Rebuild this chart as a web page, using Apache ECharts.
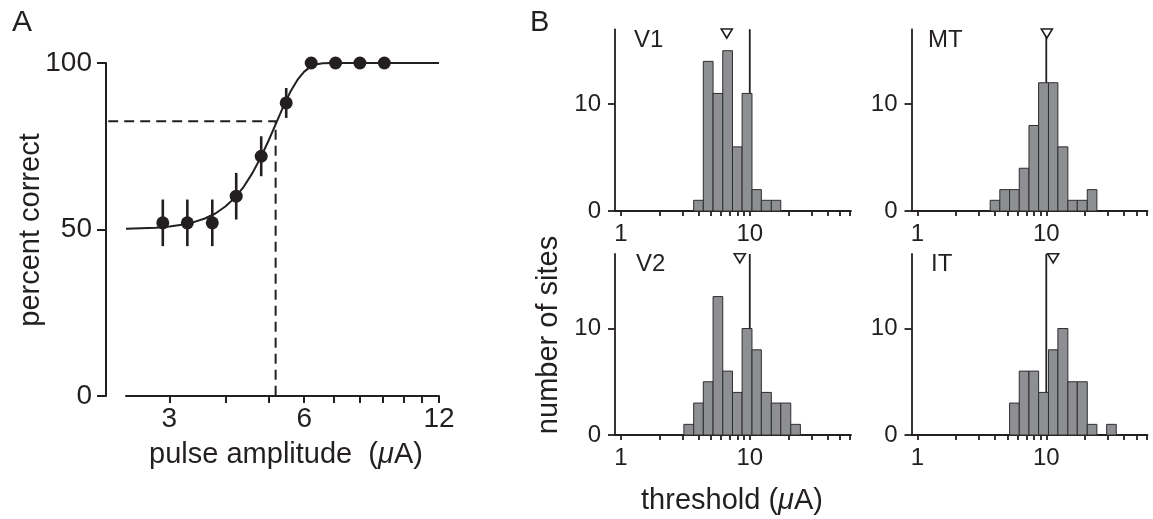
<!DOCTYPE html>
<html><head><meta charset="utf-8">
<script src="https://cdn.jsdelivr.net/npm/echarts@6/dist/echarts.min.js"></script>
<style>html,body{margin:0;padding:0;background:#fff}#c{width:1153px;height:519px}</style>
</head><body><div id="c"></div>
<script>
// ---------- Panel A data ----------
const ampX = [2.90, 3.29, 3.74, 4.23, 4.81, 5.47, 6.22, 7.05, 7.99, 9.06];
const pctCorrect = [52, 52, 52, 60, 72, 88, 100, 100, 100, 100];
const errHalf = [7, 7, 7, 7, 6, 4.5, 0, 0, 0, 0];
const fitX = [2.4, 2.8, 3.0, 3.2, 3.4, 3.6, 3.8, 4.0, 4.2, 4.4, 4.6, 4.8, 5.0, 5.2, 5.4, 5.6, 5.8, 6.0, 6.2, 6.4, 6.6, 7.0, 12];
const fitY = [50.2, 50.5, 50.9, 51.4, 52.2, 53.3, 54.8, 56.9, 59.5, 62.9, 67.0, 71.7, 76.8, 82.1, 87.2, 91.6, 95.0, 97.4, 98.9, 99.6, 99.9, 100, 100];
const threshX = 5.18, threshY = 82.5, threshStartX = 2.19;
const ampTicks = [3, 4, 5, 6, 7, 8, 9, 10, 11, 12];
const ampLabels = [3, 6, 12];
const pctTicks = [0, 50, 100];

// ---------- Panel B data ----------
const binEdges = [3.08, 3.67, 4.36, 5.19, 6.17, 7.34, 8.72, 10.4, 12.3, 14.7, 17.4, 20.8, 24.7, 29.4, 34.9];
const v1Counts = [0, 1, 14, 11, 15, 6, 11, 2, 1, 1, 0, 0, 0, 0];
const mtCounts = [0, 1, 2, 2, 4, 8, 12, 12, 6, 1, 1, 2, 0, 0];
const v2Counts = [1, 3, 5, 13, 6, 4, 10, 8, 4, 3, 3, 1, 0, 0];
const itCounts = [0, 0, 0, 3, 6, 6, 4, 8, 10, 5, 5, 1, 0, 1];
const medians = { V1: 6.63, MT: 10.1, V2: 8.36, IT: 11.3 };
const refLineX = 10;
const thrTicks = [1, 2, 3, 4, 5, 6, 7, 8, 9, 10, 20, 30, 40, 50, 60];
const thrLabels = [1, 10];
const siteTicks = [0, 10];

const ink = '#231f20';
const FF = '"Liberation Sans", Arial, Helvetica, sans-serif';

const panels = [
  { name: 'V1', counts: v1Counts, grid: { left: 615, top: 29.3, width: 236, height: 181.7 }, lab: [634, 40] },
  { name: 'MT', counts: mtCounts, grid: { left: 911.5, top: 29.3, width: 236, height: 181.7 }, lab: [928, 40] },
  { name: 'V2', counts: v2Counts, grid: { left: 615, top: 254, width: 236, height: 181 }, lab: [636, 264] },
  { name: 'IT', counts: itCounts, grid: { left: 911.5, top: 254, width: 236, height: 181 }, lab: [931, 264] }
];

const grids = [{ left: 126, top: 63, width: 313, height: 333 }];
const xAxes = [{
  gridIndex: 0, type: 'log', logBase: 2, min: 2.4, max: 12,
  axisLine: { show: true, onZero: false, lineStyle: { color: ink, width: 2 } },
  axisTick: { show: true, inside: false, length: 7, lineStyle: { color: ink, width: 2 }, customValues: ampTicks },
  axisLabel: { customValues: ampLabels, color: ink, fontSize: 28, fontFamily: FF, margin: 9 },
  splitLine: { show: false }, minorTick: { show: false }
}];
const yAxes = [{
  gridIndex: 0, type: 'value', min: 0, max: 100, interval: 50, offset: 20,
  axisLine: { show: true, onZero: false, lineStyle: { color: ink, width: 2 } },
  axisTick: { show: true, inside: false, length: 9, lineStyle: { color: ink, width: 2 }, customValues: pctTicks },
  axisLabel: { customValues: pctTicks, color: ink, fontSize: 28, fontFamily: FF, margin: 14 },
  splitLine: { show: false }
}];

const series = [
  { type: 'line', xAxisIndex: 0, yAxisIndex: 0, data: fitX.map((x, i) => [x, fitY[i]]),
    smooth: false, showSymbol: false, symbol: 'none',
    lineStyle: { color: ink, width: 2 }, z: 3 },
  { type: 'custom', xAxisIndex: 0, yAxisIndex: 0, clip: false,
    data: [[threshStartX, threshX, threshY]], encode: { x: [0, 1], y: 2 },
    renderItem: function (params, api) {
      const p0 = api.coord([api.value(0), api.value(2)]);
      const p1 = api.coord([api.value(1), api.value(2)]);
      const p2 = api.coord([api.value(1), 0]);
      return { type: 'polyline', shape: { points: [p0, p1, p2] },
        style: { stroke: ink, lineWidth: 2, fill: null, lineDash: [10, 6] } };
    }, z: 2 },
  { type: 'custom', xAxisIndex: 0, yAxisIndex: 0,
    data: ampX.map((x, i) => [x, pctCorrect[i] - errHalf[i], pctCorrect[i] + errHalf[i]]).filter((d, i) => errHalf[i] > 0),
    encode: { x: 0, y: [1, 2] },
    renderItem: function (params, api) {
      const a = api.coord([api.value(0), api.value(1)]);
      const b = api.coord([api.value(0), api.value(2)]);
      return { type: 'line', shape: { x1: a[0], y1: a[1], x2: b[0], y2: b[1] }, style: { stroke: ink, lineWidth: 2.6 } };
    }, z: 4 },
  { type: 'scatter', xAxisIndex: 0, yAxisIndex: 0, data: ampX.map((x, i) => [x, pctCorrect[i]]),
    symbol: 'circle', symbolSize: 13, itemStyle: { color: ink, opacity: 1 }, z: 5 }
];

const graphics = [
  { type: 'text', x: 12, y: 23, style: { text: 'A', font: '30px ' + FF, fill: ink, align: 'left', verticalAlign: 'middle' } },
  { type: 'text', x: 530, y: 23, style: { text: 'B', font: '29px ' + FF, fill: ink, align: 'left', verticalAlign: 'middle' } },
  { type: 'text', x: 31, y: 230, rotation: Math.PI / 2, style: { text: 'percent correct', font: '29px ' + FF, fill: ink, align: 'center', verticalAlign: 'middle' } },
  { type: 'text', x: 286, y: 455, style: { text: 'pulse amplitude  ({i|\u03bc}A)', font: '29px ' + FF, fill: ink, align: 'center', verticalAlign: 'middle',
      rich: { i: { font: 'italic 29px ' + FF, fill: ink } } } },
  { type: 'text', x: 549, y: 335, rotation: Math.PI / 2, style: { text: 'number of sites', font: '29px ' + FF, fill: ink, align: 'center', verticalAlign: 'middle' } },
  { type: 'text', x: 732, y: 501, style: { text: 'threshold ({i|\u03bc}A)', font: '29px ' + FF, fill: ink, align: 'center', verticalAlign: 'middle',
      rich: { i: { font: 'italic 29px ' + FF, fill: ink } } } }
];

panels.forEach((p, k) => {
  const gi = k + 1;
  grids.push(p.grid);
  xAxes.push({
    gridIndex: gi, type: 'log', logBase: 10, min: 0.9, max: 61,
    axisLine: { show: true, onZero: false, lineStyle: { color: ink, width: 1.8 } },
    axisTick: { show: true, inside: false, length: 5, lineStyle: { color: ink, width: 1.8 }, customValues: thrTicks },
    axisLabel: { customValues: thrLabels, color: ink, fontSize: 24, fontFamily: FF, margin: 11 },
    splitLine: { show: false }, minorTick: { show: false }
  });
  yAxes.push({
    gridIndex: gi, type: 'value', min: 0, max: 17,
    axisLine: { show: true, onZero: false, lineStyle: { color: ink, width: 1.8 } },
    axisTick: { show: true, inside: false, length: 7, lineStyle: { color: ink, width: 1.8 }, customValues: siteTicks },
    axisLabel: { customValues: siteTicks, color: ink, fontSize: 24, fontFamily: FF, margin: 14 },
    splitLine: { show: false }
  });
  series.push({ type: 'line', xAxisIndex: gi, yAxisIndex: gi, data: [[refLineX, 0], [refLineX, 17]],
    symbol: 'none', lineStyle: { color: ink, width: 1.8 }, z: 1 });
  const bars = [];
  p.counts.forEach((c, i) => { if (c > 0) bars.push([binEdges[i], binEdges[i + 1], c]); });
  series.push({ type: 'custom', xAxisIndex: gi, yAxisIndex: gi, data: bars, encode: { x: [0, 1], y: 2 },
    renderItem: function (params, api) {
      const a = api.coord([api.value(0), api.value(2)]);
      const b = api.coord([api.value(1), 0]);
      return { type: 'rect', shape: { x: a[0], y: a[1], width: b[0] - a[0], height: b[1] - a[1] },
        style: { fill: '#8e8f93', stroke: '#2e2e2e', lineWidth: 1 } };
    }, z: 2 });
  series.push({ type: 'scatter', xAxisIndex: gi, yAxisIndex: gi, data: [[medians[p.name], 16.6]],
    symbol: 'triangle', symbolRotate: 180, symbolSize: [11, 9],
    itemStyle: { color: '#fff', borderColor: ink, borderWidth: 1.6, opacity: 1 }, z: 3 });
  graphics.push({ type: 'text', x: p.lab[0], y: p.lab[1], style: { text: p.name, font: '24px ' + FF, fill: ink, align: 'left', verticalAlign: 'middle' } });
});

const chart = echarts.init(document.getElementById('c'), null, { renderer: 'canvas' });
chart.setOption({
  animation: false,
  backgroundColor: '#fff',
  grid: grids, xAxis: xAxes, yAxis: yAxes, series: series, graphic: graphics
});
</script></body></html>
